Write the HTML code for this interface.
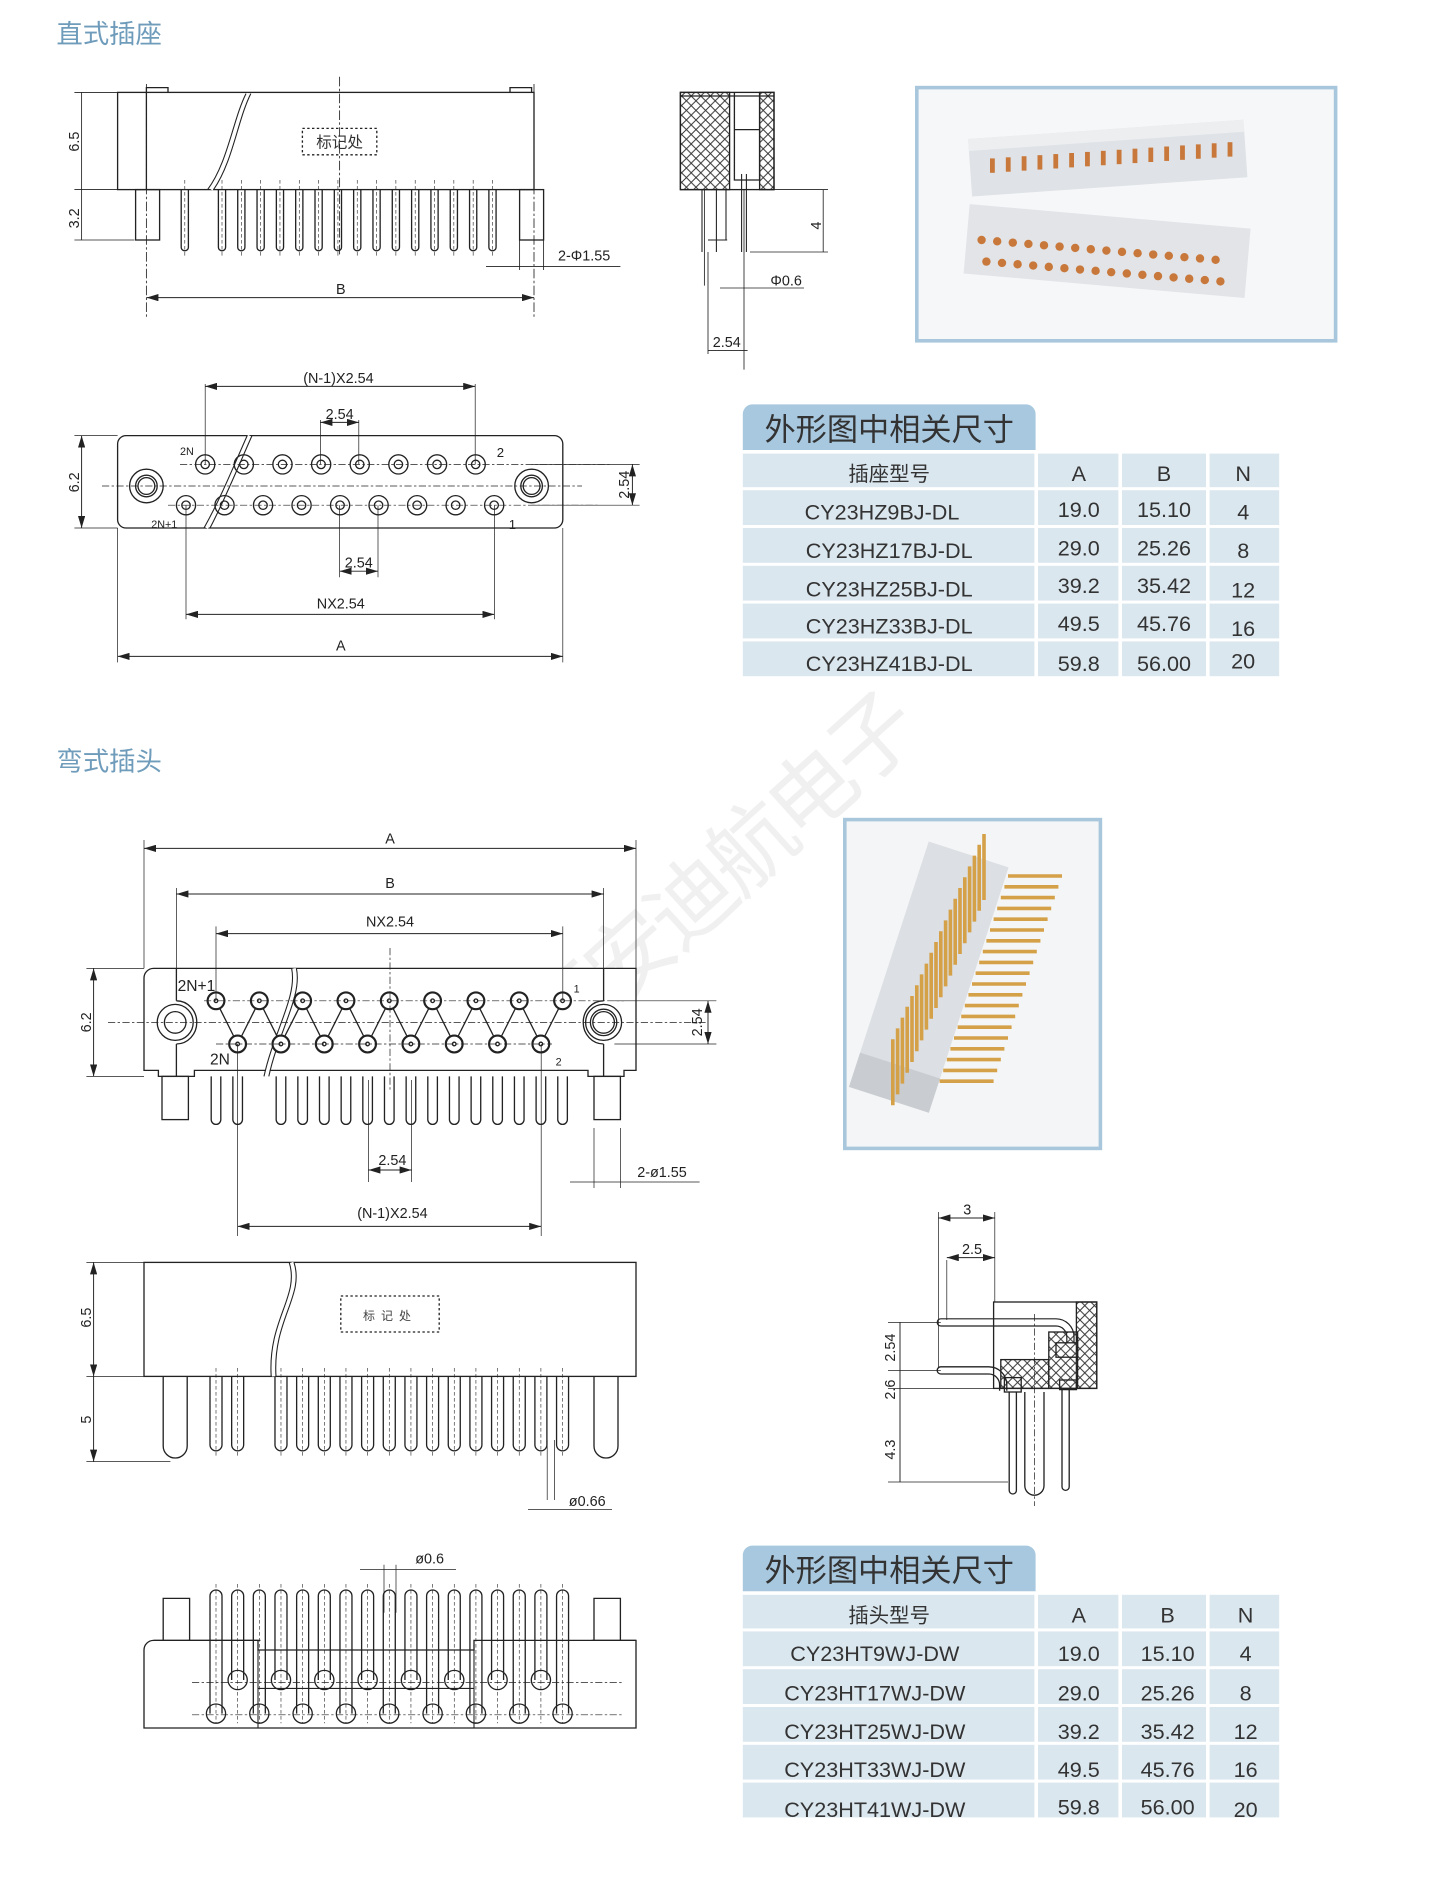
<!DOCTYPE html>
<html><head><meta charset="utf-8"><style>
html,body{margin:0;padding:0;background:#fff;width:1440px;height:1878px;overflow:hidden}
svg text{font-family:"Liberation Sans","Noto Sans CJK SC",sans-serif}
</style></head><body>
<svg id="s" width="1440" height="1878" viewBox="0 0 1200 1565" xmlns="http://www.w3.org/2000/svg">
<defs>
<pattern id="hx" width="8" height="8" patternUnits="userSpaceOnUse"><path d="M0 0L8 8M8 0L0 8" stroke="#333" stroke-width="0.8"/></pattern>
<marker id="ar" viewBox="0 0 10 6" refX="10" refY="3" markerWidth="10" markerHeight="6" orient="auto-start-reverse" markerUnits="userSpaceOnUse"><path d="M0 0L10 3L0 6z" fill="#222"/></marker>
<clipPath id="cp2"><rect x="706" y="685" width="209" height="270"/></clipPath>
</defs>
<g id="wm"><text x="600" y="755" font-size="72" fill="#f0f0f0" text-anchor="middle" transform="rotate(-42 600 730)" letter-spacing="-4">西安迪航电子</text></g>

<text x="47" y="36" font-size="22" fill="#6f9cbb">直式插座</text>
<text x="47" y="642" font-size="22" fill="#6f9cbb">弯式插头</text>

<g fill="none" stroke="#222" stroke-width="1.1" font-size="12">
<rect x="98" y="77" width="347" height="81" fill="#fff"/>
<line x1="122" y1="77" x2="122" y2="158"/>
<path d="M122 77v-4h18v4M425 77v-4h18v4"/>
<path d="M207 78 C196 100 192 135 176 158" stroke-width="2.5" stroke="#fff"/>
<path d="M205 78 C194 100 190 135 173 158M209 78 C198 100 194 135 178 158" stroke-width="0.9"/>
<rect x="252" y="107" width="62" height="22" stroke-dasharray="2 2"/>
<text x="283" y="123" text-anchor="middle" fill="#333" stroke="none" font-size="13">标记处</text>
<rect x="113" y="158" width="20" height="42"/><rect x="433" y="158" width="20" height="42"/>
<g id="sp"></g>
<path d="M122 70v195M445 70v195M283 64v150" stroke-dasharray="8 2 2 2" stroke-width="0.7"/>
<path d="M68 77v123M62 77h36M62 158h36M62 200h50" stroke-width="0.7"/>
<text transform="translate(66 118) rotate(-90)" text-anchor="middle" stroke="none" fill="#222">6.5</text>
<text transform="translate(66 182) rotate(-90)" text-anchor="middle" stroke="none" fill="#222">3.2</text>
<line x1="122" y1="248" x2="445" y2="248" marker-start="url(#ar)" marker-end="url(#ar)" stroke-width="0.8"/>
<text x="284" y="245" text-anchor="middle" stroke="none" fill="#222">B</text>
<path d="M433 200v25M453 200v25M405 222h112" stroke-width="0.7"/>
<text x="465" y="217" stroke="none" fill="#222">2-Φ1.55</text>
<rect x="567" y="77" width="41" height="81" fill="url(#hx)"/>
<rect x="567" y="77" width="78" height="81"/>
<rect x="633" y="77" width="12" height="81" fill="url(#hx)"/>
<path d="M567 80h78M612 77v73h21v-73M612 108h21"/>
<path d="M585 158v52M597 158v52M605 158v42h-12M590 200h16M618 145v65M622 145v65" stroke-width="0.9"/>
<path d="M587 158v80M620 158v150M590 210v85M645 158h45M625 210h65M686 158v52" stroke-width="0.7"/>
<text transform="translate(684 188) rotate(-90)" text-anchor="middle" stroke="none" fill="#222">4</text>
<path d="M600 240h70M590 292h33" stroke-width="0.7"/>
<text x="642" y="238" stroke="none" fill="#222">Φ0.6</text>
<text x="594" y="289" stroke="none" fill="#222">2.54</text>

<rect x="98" y="363" width="371" height="77" rx="7" fill="#fff"/>
<circle cx="122" cy="405" r="14"/><circle cx="122" cy="405" r="9"/><circle cx="122" cy="405" r="7"/>
<circle cx="443" cy="405" r="14"/><circle cx="443" cy="405" r="9"/><circle cx="443" cy="405" r="7"/>
<path d="M208 363 C196 390 186 415 172 440" stroke-width="3" stroke="#fff"/>
<path d="M206 363 C194 390 184 415 170 440M210 363 C198 390 188 415 175 440" stroke-width="0.9"/>
<g id="fc"></g>
<path d="M85 405h400M150 387h360M140 421h360" stroke-dasharray="6 2 2 2" stroke-width="0.6"/>
<path d="M171 320v67M396 320v67M155 421v95M412 421v95M283 421v60M315 421v60M267 350v37M299 350v37M98 440v112M469 440v112M62 363h36M62 440h36M443 387h90M443 421h90" stroke-width="0.6"/>
<line x1="171" y1="322" x2="396" y2="322" marker-start="url(#ar)" marker-end="url(#ar)" stroke-width="0.8"/>
<text x="282" y="319" text-anchor="middle" stroke="none" fill="#222">(N-1)X2.54</text>
<line x1="267" y1="352" x2="299" y2="352" marker-start="url(#ar)" marker-end="url(#ar)" stroke-width="0.8"/>
<text x="283" y="349" text-anchor="middle" stroke="none" fill="#222">2.54</text>
<line x1="283" y1="476" x2="315" y2="476" marker-start="url(#ar)" marker-end="url(#ar)" stroke-width="0.8"/>
<text x="299" y="473" text-anchor="middle" stroke="none" fill="#222">2.54</text>
<line x1="155" y1="512" x2="412" y2="512" marker-start="url(#ar)" marker-end="url(#ar)" stroke-width="0.8"/>
<text x="284" y="507" text-anchor="middle" stroke="none" fill="#222">NX2.54</text>
<line x1="98" y1="547" x2="469" y2="547" marker-start="url(#ar)" marker-end="url(#ar)" stroke-width="0.8"/>
<text x="284" y="542" text-anchor="middle" stroke="none" fill="#222">A</text>
<line x1="68" y1="363" x2="68" y2="440" marker-start="url(#ar)" marker-end="url(#ar)" stroke-width="0.8"/>
<text transform="translate(66 402) rotate(-90)" text-anchor="middle" stroke="none" fill="#222">6.2</text>
<line x1="527" y1="387" x2="527" y2="421" marker-start="url(#ar)" marker-end="url(#ar)" stroke-width="0.8"/>
<text transform="translate(524 404) rotate(-90)" text-anchor="middle" stroke="none" fill="#222">2.54</text>
<g stroke="none" fill="#222" font-size="9"><text x="150" y="379">2N</text><text x="414" y="381" font-size="11">2</text><text x="126" y="440">2N+1</text><text x="424" y="441" font-size="11">1</text></g>

<path d="M128 807H530v85h-10v5h-30v-5H162v5h-30v-5h-12v-77a8 8 0 0 1 8-8z" fill="#fff"/>
<circle cx="146" cy="852" r="15"/><circle cx="146" cy="852" r="9"/>
<circle cx="503" cy="852" r="15"/><circle cx="503" cy="852" r="9"/><circle cx="503" cy="852" r="11"/>
<path d="M147 834a17 18 0 0 1 0 36M147 834v-27M147 870v27M503 834a17 18 0 0 0 0 36M503 834v-27M503 870v27"/>
<path d="M245 807 C250 830 230 860 222 897" stroke-width="3" stroke="#fff"/>
<path d="M243 807 C248 830 228 860 220 897M247 807 C252 830 232 860 224 897" stroke-width="0.9"/>
<g id="bc"></g>
<rect x="135" y="897" width="22" height="36"/><rect x="495" y="897" width="22" height="36"/>
<path d="M90 852h500M170 834h350M180 870h280M325 790v120" stroke-dasharray="6 2 2 2" stroke-width="0.6"/>
<path d="M120 700v107M530 700v107M147 740v67M503 740v67M180 772v62M469 772v62M198 870v160M451 870v160M307 900v85M343 900v85M72 807h48M72 897h48M512 834h85M512 870h85M495 940v50M517 940v50" stroke-width="0.6"/>
<line x1="120" y1="707" x2="530" y2="707" marker-start="url(#ar)" marker-end="url(#ar)" stroke-width="0.8"/>
<text x="325" y="703" text-anchor="middle" stroke="none" fill="#222">A</text>
<line x1="147" y1="745" x2="503" y2="745" marker-start="url(#ar)" marker-end="url(#ar)" stroke-width="0.8"/>
<text x="325" y="740" text-anchor="middle" stroke="none" fill="#222">B</text>
<line x1="180" y1="778" x2="469" y2="778" marker-start="url(#ar)" marker-end="url(#ar)" stroke-width="0.8"/>
<text x="325" y="772" text-anchor="middle" stroke="none" fill="#222">NX2.54</text>
<line x1="78" y1="807" x2="78" y2="897" marker-start="url(#ar)" marker-end="url(#ar)" stroke-width="0.8"/>
<text transform="translate(76 852) rotate(-90)" text-anchor="middle" stroke="none" fill="#222">6.2</text>
<line x1="590" y1="834" x2="590" y2="870" marker-start="url(#ar)" marker-end="url(#ar)" stroke-width="0.8"/>
<text transform="translate(585 852) rotate(-90)" text-anchor="middle" stroke="none" fill="#222">2.54</text>
<line x1="307" y1="975" x2="343" y2="975" marker-start="url(#ar)" marker-end="url(#ar)" stroke-width="0.8"/>
<text x="327" y="971" text-anchor="middle" stroke="none" fill="#222">2.54</text>
<path d="M475 985h108" stroke-width="0.7"/>
<text x="531" y="981" stroke="none" fill="#222">2-ø1.55</text>
<line x1="198" y1="1022" x2="451" y2="1022" marker-start="url(#ar)" marker-end="url(#ar)" stroke-width="0.8"/>
<text x="327" y="1015" text-anchor="middle" stroke="none" fill="#222">(N-1)X2.54</text>
<g stroke="none" fill="#222" font-size="13"><text x="148" y="826">2N+1</text><text x="175" y="887">2N</text><text x="478" y="827" font-size="9">1</text><text x="463" y="888" font-size="9">2</text></g>

<rect x="120" y="1052" width="410" height="95" fill="#fff"/>
<path d="M243 1052 C252 1080 225 1100 228 1147" stroke-width="3" stroke="#fff"/>
<path d="M241 1052 C250 1080 223 1100 226 1147M245 1052 C254 1080 227 1100 230 1147" stroke-width="0.9"/>
<rect x="284" y="1080" width="82" height="30" stroke-dasharray="2 2"/>
<text x="325" y="1100" text-anchor="middle" stroke="none" fill="#444" font-size="10" letter-spacing="5">标记处</text>
<g id="bs"></g>
<path d="M72 1052h48M72 1147h48M72 1218h70M456 1200v50M462 1200v50M440 1258h70" stroke-width="0.6"/>
<line x1="78" y1="1052" x2="78" y2="1147" marker-start="url(#ar)" marker-end="url(#ar)" stroke-width="0.8"/>
<line x1="78" y1="1147" x2="78" y2="1218" marker-end="url(#ar)" stroke-width="0.8"/>
<text transform="translate(76 1098) rotate(-90)" text-anchor="middle" stroke="none" fill="#222">6.5</text>
<text transform="translate(76 1183) rotate(-90)" text-anchor="middle" stroke="none" fill="#222">5</text>
<text x="474" y="1255" stroke="none" fill="#222">ø0.66</text>

<path d="M128 1367h30v-35h-22v35M495 1367v-35h22v35" fill="#fff"/>
<path d="M128 1367H215v8h180v-8h135v73H120v-65a8 8 0 0 1 8-8z" fill="#fff"/>
<path d="M215 1375v65M395 1375v65M215 1407h180" stroke-width="0.9"/>
<path d="M157 1367h60M493 1367h37" />
<g id="bb"></g>
<path d="M300 1308h80M320 1304v40M330 1304v40" stroke-width="0.6"/>
<text x="346" y="1303" stroke="none" fill="#222">ø0.6</text>

<g>
<rect x="828" y="1085" width="86" height="72"/>
<rect x="897" y="1085" width="17" height="72" fill="url(#hx)"/>
<rect x="874" y="1110" width="24" height="47" fill="url(#hx)"/>
<rect x="834" y="1133" width="40" height="24" fill="url(#hx)"/>
<path d="M784 1099h96a15 15 0 0 1 15 15v5M784 1105h96a9 9 0 0 1 9 9v5M784 1099a3 3 0 0 0 0 6" stroke-width="1"/>
<path d="M784 1139h40a15 15 0 0 1 15 15v5M784 1145h40a9 9 0 0 1 9 9v5M784 1139a3 3 0 0 0 0 6"/>
<rect x="880" y="1119" width="18" height="12"/><rect x="883" y="1150" width="14" height="8"/><rect x="837" y="1148" width="14" height="12"/>
<path d="M841 1160v82a3 3 0 0 0 6 0v-82M885 1157v82a3 3 0 0 0 6 0v-82M854 1160v78a8 8 0 0 0 16 0v-78"/>
<path d="M862 1095v160" stroke-dasharray="6 2 2 2" stroke-width="0.6"/>
<path d="M782 1010v130M829 1010v75M789 1050v50M740 1102h44M740 1142h44M740 1157h88M740 1235h100" stroke-width="0.6"/>
<line x1="782" y1="1015" x2="829" y2="1015" marker-start="url(#ar)" marker-end="url(#ar)" stroke-width="0.8"/>
<line x1="789" y1="1048" x2="829" y2="1048" marker-start="url(#ar)" marker-end="url(#ar)" stroke-width="0.8"/>
<text x="806" y="1012" text-anchor="middle" stroke="none" fill="#222">3</text>
<text x="810" y="1045" text-anchor="middle" stroke="none" fill="#222">2.5</text>
<line x1="750" y1="1102" x2="750" y2="1235" stroke-width="0.8"/>
<text transform="translate(746 1123) rotate(-90)" text-anchor="middle" stroke="none" fill="#222">2.54</text>
<text transform="translate(746 1158) rotate(-90)" text-anchor="middle" stroke="none" fill="#222">2.6</text>
<text transform="translate(746 1208) rotate(-90)" text-anchor="middle" stroke="none" fill="#222">4.3</text>
</g>
</g>

<rect x="764" y="73" width="349" height="211" fill="#f6f7f8" stroke="#a9c7dc" stroke-width="3"/>
<g transform="rotate(-4 920 130)"><rect x="808" y="108" width="230" height="48" fill="#dfe2e6"/><rect x="808" y="108" width="230" height="10" fill="#eceef0"/></g>
<g transform="rotate(5 920 210)"><rect x="805" y="180" width="235" height="58" fill="#e2e4e8"/></g>
<g fill="#c8783a"><g id="ph"></g></g>
<rect x="704" y="683" width="213" height="274" fill="#f4f5f6" stroke="#a9c7dc" stroke-width="3"/>
<g clip-path="url(#cp2)">
<g transform="rotate(18 790 820)"><rect x="738" y="712" width="70" height="215" fill="#dcdfe3"/><rect x="738" y="897" width="70" height="30" fill="#c9ccd1"/></g>
<g stroke="#d4a048" stroke-width="3" id="pp"></g>
</g>

<g id="t1"></g>
</svg>
<script>
var NS="http://www.w3.org/2000/svg";
function el(p,t,a){var e=document.createElementNS(NS,t);for(var k in a)e.setAttribute(k,a[k]);document.getElementById(p).appendChild(e);return e;}
var xs=[154];for(var i=0;i<15;i++)xs.push(185+i*16.1);
xs.forEach(function(x){el('sp','path',{d:'M'+(x-3)+' 158v48a3 3 0 0 0 6 0v-48'});el('sp','line',{x1:x,y1:150,x2:x,y2:214,'stroke-dasharray':'3 2','stroke-width':0.5});});
for(var i=0;i<8;i++){var x=171+i*32.2;el('fc','circle',{cx:x,cy:387,r:8});el('fc','circle',{cx:x,cy:387,r:3.5});}
for(var i=0;i<9;i++){var x=155+i*32.1;el('fc','circle',{cx:x,cy:421,r:8});el('fc','circle',{cx:x,cy:421,r:3.5});}
var t=[],b=[];for(var i=0;i<9;i++)t.push(180+i*36.1);for(var i=0;i<8;i++)b.push(198+i*36.1);
for(var i=0;i<8;i++){el('bc','line',{x1:t[i],y1:834,x2:b[i],y2:870});el('bc','line',{x1:b[i],y1:870,x2:t[i+1],y2:834});}
t.forEach(function(x){el('bc','circle',{cx:x,cy:834,r:7,fill:'#fff','stroke-width':1.8});el('bc','circle',{cx:x,cy:834,r:1.5});});
b.forEach(function(x){el('bc','circle',{cx:x,cy:870,r:7,fill:'#fff','stroke-width':1.8});el('bc','circle',{cx:x,cy:870,r:1.5});});
var pins=[];for(var i=0;i<17;i++)pins.push(180+i*18.05);
pins.forEach(function(x){if(x>205&&x<225)return;el('bc','path',{d:'M'+(x-4)+' 897v36a4 4 0 0 0 8 0v-36'});});
pins.forEach(function(x){if(x>205&&x<225)return;el('bs','path',{d:'M'+(x-5)+' 1147v57a5 5 0 0 0 10 0v-57'});el('bs','line',{x1:x,y1:1140,x2:x,y2:1215,'stroke-dasharray':'3 2','stroke-width':0.5});});
el('bs','path',{d:'M136 1147v58a10 10 0 0 0 20 0v-58M495 1147v58a10 10 0 0 0 20 0v-58'});
pins.forEach(function(x,i){var yb=(i%2==0)?1428:1400;el('bb','path',{d:'M'+(x-5)+' '+yb+'V1330a5 5 0 0 1 10 0V'+yb});el('bb','circle',{cx:x,cy:yb,r:8});el('bb','line',{x1:x,y1:1320,x2:x,y2:1436,'stroke-dasharray':'3 2','stroke-width':0.5});});
el('bb','path',{d:'M160 1402h360M160 1429h360','stroke-dasharray':'6 2 2 2','stroke-width':0.6});
for(var i=0;i<16;i++){el('ph','rect',{x:825+i*13.2,y:132-i*0.9,width:4,height:12});el('ph','circle',{cx:818+i*13,cy:200+i*1.1,r:3.5});el('ph','circle',{cx:822+i*13,cy:218+i*1.1,r:3.5});}
for(var i=0;i<20;i++){var y=720+i*9;el('pp','line',{x1:820-i*4,y1:y-25,x2:820-i*4,y2:y+30});el('pp','line',{x1:840-i*3,y1:y+10,x2:885-i*3,y2:y+10});}
function table(y0){
 var g='t1';
 el(g,'path',{d:'M619 '+(y0+38)+'V'+(y0+8)+'a8 8 0 0 1 8-8h228a8 8 0 0 1 8 8V'+(y0+38)+'z',fill:'#a8c8df'});
 var cols=[[619,862],[865,932],[935,1005],[1008,1066]];
 var ys=[y0+41];var rh=[30,31,31,31,31,31];
 for(var r=0;r<6;r++){var yy=ys[r];cols.forEach(function(c){el(g,'rect',{x:c[0],y:yy,width:c[1]-c[0],height:rh[r]-2,fill:'#dbe7ef'});});ys.push(yy+rh[r]+0.5);}
}
table(337);table(1288);
</script>
<div style="position:absolute;left:0;top:0;width:1440px;height:1878px;pointer-events:none">
<svg width="1440" height="1878" viewBox="0 0 1200 1565" style="position:absolute;left:0;top:0">
<g font-family="Liberation Sans,Noto Sans CJK SC,sans-serif" fill="#333" text-anchor="middle" font-size="18">
<text x="741" y="367" font-size="26" fill="#333" font-family="Noto Sans CJK SC,sans-serif">外形图中相关尺寸</text>
<text x="741" y="401" font-size="17" font-family="Noto Sans CJK SC,sans-serif">插座型号</text><text x="899" y="401">A</text><text x="970" y="401">B</text><text x="1036" y="401">N</text>
<text x="735" y="433">CY23HZ9BJ-DL</text><text x="899" y="431">19.0</text><text x="970" y="431">15.10</text><text x="1036" y="433">4</text>
<text x="741" y="465">CY23HZ17BJ-DL</text><text x="899" y="463">29.0</text><text x="970" y="463">25.26</text><text x="1036" y="465">8</text>
<text x="741" y="497">CY23HZ25BJ-DL</text><text x="899" y="494">39.2</text><text x="970" y="494">35.42</text><text x="1036" y="498">12</text>
<text x="741" y="528">CY23HZ33BJ-DL</text><text x="899" y="526">49.5</text><text x="970" y="526">45.76</text><text x="1036" y="530">16</text>
<text x="741" y="559">CY23HZ41BJ-DL</text><text x="899" y="559">59.8</text><text x="970" y="559">56.00</text><text x="1036" y="557">20</text>
<text x="741" y="1318" font-size="26" fill="#333" font-family="Noto Sans CJK SC,sans-serif">外形图中相关尺寸</text>
<text x="741" y="1352" font-size="17" font-family="Noto Sans CJK SC,sans-serif">插头型号</text><text x="899" y="1352">A</text><text x="973" y="1352">B</text><text x="1038" y="1352">N</text>
<text x="729" y="1384">CY23HT9WJ-DW</text><text x="899" y="1384">19.0</text><text x="973" y="1384">15.10</text><text x="1038" y="1384">4</text>
<text x="729" y="1417">CY23HT17WJ-DW</text><text x="899" y="1417">29.0</text><text x="973" y="1417">25.26</text><text x="1038" y="1417">8</text>
<text x="729" y="1449">CY23HT25WJ-DW</text><text x="899" y="1449">39.2</text><text x="973" y="1449">35.42</text><text x="1038" y="1449">12</text>
<text x="729" y="1481">CY23HT33WJ-DW</text><text x="899" y="1481">49.5</text><text x="973" y="1481">45.76</text><text x="1038" y="1481">16</text>
<text x="729" y="1514">CY23HT41WJ-DW</text><text x="899" y="1512">59.8</text><text x="973" y="1512">56.00</text><text x="1038" y="1514">20</text>
</g></svg></div>
</body></html>
